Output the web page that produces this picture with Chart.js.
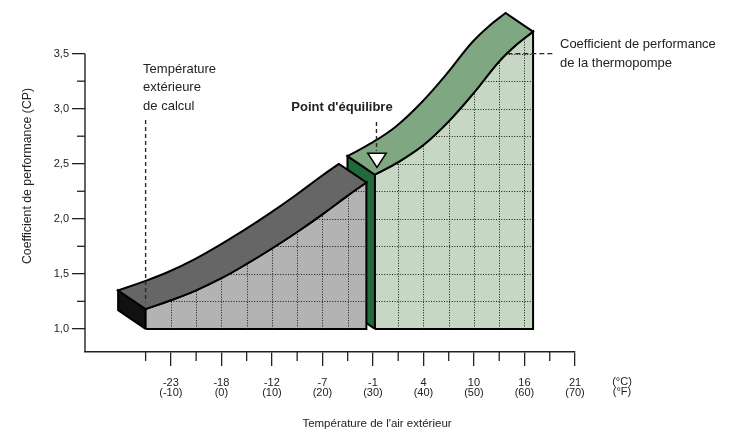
<!DOCTYPE html>
<html>
<head>
<meta charset="utf-8">
<script src="https://cdn.jsdelivr.net/npm/chart.js@4.4.1/dist/chart.umd.min.js"></script>
<style>
  html, body { margin: 0; padding: 0; background: #ffffff; }
  #wrap { position: relative; width: 735px; height: 433px; }
</style>
</head>
<body>
<div id="wrap"><canvas id="chart" width="735" height="433"></canvas></div>
<script>
// ---------- data ----------
const tempTicksF   = [-10, 0, 10, 20, 30, 40, 50, 60, 70];
const tempTicksC   = ['-23', '-18', '-12', '-7', '-1', '4', '10', '16', '21'];
const tempMinorF   = [-15, -5, 5, 15, 25, 35, 45, 55, 65];
const copTicks     = [1.0, 1.5, 2.0, 2.5, 3.0, 3.5];
const copMinor     = [1.25, 1.75, 2.25, 2.75, 3.25];

// below the balance point (grey block)
const lowTempF  = [-15, -10, -5, 0, 5, 10, 15, 20, 25, 28.7];
const lowCop    = [1.18, 1.26, 1.35, 1.46, 1.59, 1.73, 1.88, 2.04, 2.21, 2.33];
// above the balance point (green block)
const highTempF = [30.4, 35, 40, 45, 50, 55, 58.5, 61.7];
const highCop   = [2.40, 2.515, 2.67, 2.885, 3.145, 3.43, 3.585, 3.70];

const baseCop        = 1.0;
const designTempF    = -15;
const balanceTempF   = 30.8;
const gridTempF      = [-10, -5, 0, 5, 10, 15, 20, 25, 35, 40, 45, 50, 55, 60];
const gridCop        = [1.25, 1.5, 1.75, 2.0, 2.25, 2.5, 2.75, 3.0, 3.25, 3.5];

// ---------- presentation ----------
const DEPTH = { dx: -5.44, dy: 0.169 };   // pseudo-3D extrusion, in axis units
const FONT = '"Liberation Sans", Arial, sans-serif';
const INK = '#222222';

function pts(xs, ys) { return xs.map((x, i) => ({ x: x, y: ys[i] })); }
function back(p) { return p.map(q => ({ x: q.x + DEPTH.dx, y: q.y + DEPTH.dy })); }
// corners are doubled so the spline keeps them sharp and the straight edges straight
function corner(p) { return [p, { x: p.x, y: p.y }]; }
function curveRun(p) { return [p[0]].concat(p.slice(1, -1), [p[p.length - 1]]); }

function face(xs, ys) {
  const top = pts(xs, ys);
  const bl = { x: xs[0], y: baseCop }, br = { x: xs[xs.length - 1], y: baseCop };
  return [].concat(
    corner(bl), corner(top[0]), top.slice(1, -1), corner(top[top.length - 1]), corner(br), [{ x: bl.x, y: bl.y }]
  );
}
function band(xs, ys) {
  const f = pts(xs, ys), b = back(f).reverse();
  return [].concat(
    corner(f[0]), f.slice(1, -1), corner(f[f.length - 1]),
    corner(b[0]), b.slice(1, -1), corner(b[b.length - 1]), [{ x: f[0].x, y: f[0].y }]
  );
}
function side(xs, ys) {
  const a = { x: xs[0], y: baseCop }, b = { x: xs[0], y: ys[0] };
  const p = [a, b].concat(back([b, a]));
  return p.concat([{ x: a.x, y: a.y }]);
}

function poly(label, data, fillColor, order, gridded, tension) {
  return {
    label: label, data: data, order: order, gridded: !!gridded,
    backgroundColor: fillColor, borderColor: '#000000', borderWidth: 2,
    fill: 'shape', tension: tension, pointRadius: 0, pointHoverRadius: 0,
    borderJoinStyle: 'miter', clip: false
  };
}

const datasets = [
  poly('highSide', side(highTempF, highCop), '#1f6b3c', 6, false, 0),
  poly('highFace', face(highTempF, highCop), '#c6d8c3', 5, true, 0.4),
  poly('highBand', band(highTempF, highCop), '#7fa882', 4, false, 0.4),
  poly('lowSide',  side(lowTempF, lowCop),   '#111111', 3, false, 0),
  poly('lowFace',  face(lowTempF, lowCop),   '#b3b3b3', 2, true, 0.4),
  poly('lowBand',  band(lowTempF, lowCop),   '#666666', 1, false, 0.4)
];

// dotted grid clipped to each front face
const faceGrid = {
  id: 'faceGrid',
  afterDatasetDraw(chart, args) {
    const ds = chart.data.datasets[args.index];
    if (!ds.gridded) return;
    const ctx = chart.ctx, xs = chart.scales.x, ys = chart.scales.y;
    ctx.save();
    ctx.beginPath();
    args.meta.dataset.path(ctx);
    ctx.closePath();
    ctx.clip();
    ctx.strokeStyle = '#1a1a1a';
    ctx.lineWidth = 1;
    ctx.setLineDash([1, 1.6]);
    const yb = ys.getPixelForValue(baseCop), yt = ys.getPixelForValue(ys.max);
    const xl = xs.getPixelForValue(xs.min), xr = xs.getPixelForValue(xs.max);
    gridTempF.forEach(v => {
      const x = Math.round(xs.getPixelForValue(v)) + 0.5;
      ctx.beginPath(); ctx.moveTo(x, yb); ctx.lineTo(x, yt); ctx.stroke();
    });
    gridCop.forEach(v => {
      const y = Math.round(ys.getPixelForValue(v)) + 0.5;
      ctx.beginPath(); ctx.moveTo(xr, y); ctx.lineTo(xl, y); ctx.stroke();
    });
    ctx.restore();
  }
};

// axis line, minor ticks, titles and annotations
const annotations = {
  id: 'annotations',
  afterDraw(chart) {
    const ctx = chart.ctx, xs = chart.scales.x, ys = chart.scales.y, a = chart.chartArea;
    const X = v => xs.getPixelForValue(v), Y = v => ys.getPixelForValue(v);
    ctx.save();
    ctx.strokeStyle = INK; ctx.fillStyle = INK;

    // y axis line (from 3.5 down to the x axis)
    ctx.lineWidth = 1.4;
    ctx.beginPath(); ctx.moveTo(a.left, Y(copTicks[copTicks.length - 1])); ctx.lineTo(a.left, a.bottom); ctx.stroke();

    // minor ticks
    ctx.lineWidth = 1.3;
    tempMinorF.forEach(v => {
      const x = X(v);
      ctx.beginPath(); ctx.moveTo(x, a.bottom); ctx.lineTo(x, a.bottom + 9); ctx.stroke();
    });
    copMinor.forEach(v => {
      const y = Y(v);
      ctx.beginPath(); ctx.moveTo(a.left, y); ctx.lineTo(a.left - 8, y); ctx.stroke();
    });

    // unit labels at the end of the x axis
    ctx.font = '11px ' + FONT;
    ctx.textAlign = 'center'; ctx.textBaseline = 'middle';
    ctx.fillText('(°C)', X(79.3), 382);
    ctx.fillText('(°F)', X(79.3), 392);

    // axis titles
    ctx.font = '11.5px ' + FONT;
    ctx.fillText("Température de l'air extérieur", 377, 424);
    ctx.save();
    ctx.translate(28, 176);
    ctx.rotate(-Math.PI / 2);
    ctx.font = '12.3px ' + FONT;
    ctx.fillText('Coefficient de performance (CP)', 0, 0);
    ctx.restore();

    // design temperature
    ctx.font = '13px ' + FONT;
    ctx.textAlign = 'left'; ctx.textBaseline = 'alphabetic';
    const xd = X(designTempF);
    ctx.fillText('Température', xd - 2.5, 73);
    ctx.fillText('extérieure', xd - 2.5, 91.3);
    ctx.fillText('de calcul', xd - 2.5, 109.6);
    ctx.setLineDash([4, 3]); ctx.lineWidth = 1.4; ctx.strokeStyle = '#2a2a2a';
    ctx.beginPath(); ctx.moveTo(xd, 120); ctx.lineTo(xd, Y(1.24)); ctx.stroke();

    // heat pump COP label
    const y35 = Y(3.5);
    ctx.setLineDash([5, 3]);
    ctx.beginPath(); ctx.moveTo(X(56.6), y35); ctx.lineTo(553, y35); ctx.stroke();
    ctx.setLineDash([]);
    ctx.fillText('Coefficient de performance', 560, 48.3);
    ctx.fillText('de la thermopompe', 560, 66.7);

    // balance point
    const xb = X(balanceTempF);
    ctx.font = 'bold 13px ' + FONT;
    ctx.textAlign = 'center';
    ctx.fillText("Point d'équilibre", xb - 35, 111);
    ctx.setLineDash([4, 3]); ctx.lineWidth = 1.4;
    ctx.beginPath(); ctx.moveTo(xb - 0.5, 122); ctx.lineTo(xb - 0.5, 151); ctx.stroke();
    ctx.setLineDash([]);
    const ty = Y(2.596), ay = Y(2.467);
    ctx.beginPath();
    ctx.moveTo(xb - 9.2, ty); ctx.lineTo(xb + 9.2, ty); ctx.lineTo(xb, ay); ctx.closePath();
    ctx.fillStyle = '#ffffff'; ctx.fill();
    ctx.lineWidth = 1.5; ctx.strokeStyle = '#000000'; ctx.lineJoin = 'miter'; ctx.stroke();
    ctx.restore();
  }
};

new Chart(document.getElementById('chart'), {
  type: 'line',
  data: { datasets: datasets },
  options: {
    responsive: false,
    animation: false,
    events: [],
    layout: { padding: { top: 7, right: 160, left: 0, bottom: 0 } },
    plugins: { legend: { display: false }, tooltip: { enabled: false } },
    elements: { line: { capBezierPoints: false } },
    scales: {
      x: {
        type: 'linear', min: -27, max: 70,
        afterBuildTicks: s => { s.ticks = tempTicksF.map(v => ({ value: v })); },
        afterFit: s => { s.height = 81; },
        ticks: {
          autoSkip: false, maxRotation: 0, minRotation: 0, padding: 12,
          color: INK, font: { family: FONT, size: 11, lineHeight: 0.92 },
          callback: v => {
            const k = tempTicksF.indexOf(v);
            return k < 0 ? '' : [tempTicksC[k], '(' + v + ')'];
          }
        },
        grid: { drawOnChartArea: false, drawTicks: true, tickLength: 14, color: INK, lineWidth: 1.3 },
        border: { display: true, color: INK, width: 1.4 }
      },
      y: {
        type: 'linear', min: 0.79, max: 3.9,
        afterBuildTicks: s => { s.ticks = copTicks.map(v => ({ value: v })); },
        afterFit: s => { s.width = 85; },
        ticks: {
          autoSkip: false, padding: 3, color: INK,
          font: { family: FONT, size: 11 },
          callback: v => v.toFixed(1).replace('.', ',')
        },
        grid: { drawOnChartArea: false, drawTicks: true, tickLength: 13, color: INK, lineWidth: 1.3 },
        border: { display: false }
      }
    }
  },
  plugins: [faceGrid, annotations]
});
</script>
</body>
</html>
